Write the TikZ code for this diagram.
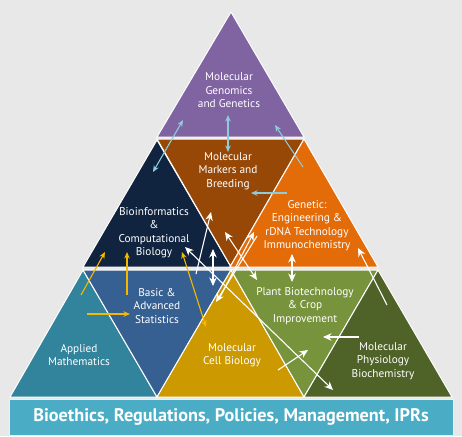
\documentclass[tikz,border=0pt]{standalone}
\usepackage{fontspec}
\setmainfont{PT Sans}
\usetikzlibrary{arrows.meta}
\definecolor{bgc}{HTML}{E8E8E8}
\definecolor{cPurple}{HTML}{8064A2}
\definecolor{cBrown}{HTML}{984806}
\definecolor{cNavy}{HTML}{10233F}
\definecolor{cOrange}{HTML}{E36C09}
\definecolor{cTeal}{HTML}{31849B}
\definecolor{cBlue}{HTML}{366092}
\definecolor{cGold}{HTML}{CC9900}
\definecolor{cGreen}{HTML}{77933C}
\definecolor{cOlive}{HTML}{4F6228}
\definecolor{cBar}{HTML}{4BACC6}
\definecolor{cLB}{HTML}{8ECBDC}
\definecolor{cYel}{HTML}{F5B800}
\tikzset{
  tri/.style={draw=white, line width=1pt, line join=miter},
  lbl/.style={text=white, align=center, inner sep=0pt, font=\fontsize{11.3}{13.5}\selectfont},
  lbarr/.style={draw=cLB, line width=1.1pt, -{Stealth[length=6.5pt,width=5.5pt]}},
  lbdbl/.style={draw=cLB, line width=1.1pt, {Stealth[length=6.5pt,width=5.5pt]}-{Stealth[length=6.5pt,width=5.5pt]}},
  yarr/.style={draw=cYel, line width=1.1pt, -{Stealth[length=6.5pt,width=5.5pt]}},
  ydbl/.style={draw=cYel, line width=1.1pt, {Stealth[length=6.5pt,width=5.5pt]}-{Stealth[length=6.5pt,width=5.5pt]}},
  warr/.style={draw=white, line width=1.1pt, -{Stealth[length=8.5pt,width=7.5pt]}},
  wdbl/.style={draw=white, line width=1.1pt, {Stealth[length=8.5pt,width=7.5pt]}-{Stealth[length=8.5pt,width=7.5pt]}}
}
\begin{document}
\begin{tikzpicture}[x=1pt,y=-1pt]
\fill[bgc] (0,0) rectangle (462,436);
\useasboundingbox (0,0) rectangle (462,436);
% row 1
\filldraw[tri, fill=cPurple] (231,12) -- (157,137) -- (304,137) -- cycle;
% row 2
\filldraw[tri, fill=cNavy] (157,140) -- (83,267) -- (231,267) -- cycle;
\filldraw[tri, fill=cBrown] (157,139) -- (304,139) -- (230.5,266) -- cycle;
\filldraw[tri, fill=cOrange] (304,139) -- (230,267) -- (378,267) -- cycle;
% row 3
\filldraw[tri, fill=cTeal] (83,270) -- (10,397) -- (157,397) -- cycle;
\filldraw[tri, fill=cBlue] (83,270) -- (231,270) -- (157,397) -- cycle;
\filldraw[tri, fill=cGold] (231,270) -- (157,397) -- (304,397) -- cycle;
\filldraw[tri, fill=cGreen] (231,270) -- (378,270) -- (304,397) -- cycle;
\filldraw[tri, fill=cOlive] (378,270) -- (304,397) -- (452,397) -- cycle;
% bottom bar
\node[draw=white!85!cBar, line width=0.8pt, fill=cBar, minimum width=444pt, minimum height=36pt, inner sep=0pt, anchor=north west] (bar) at (9,399) {};
\node[text=white, font=\fontsize{18.2}{20}\selectfont\bfseries] (bartxt) at (231,416.5) {Bioethics, Regulations, Policies, Management, IPRs};
% labels
\node[lbl] (mgg) at (229,90.5) {Molecular\\Genomics\\and Genetics};
\node[lbl] (mmb) at (228,171) {Molecular\\Markers and\\Breeding};
\node[lbl] (bcb) at (154,232.5) {Bioinformatics\\\&\\Computational\\Biology};
\node[lbl] (ger) at (307,225.5) {Genetic:\\Engineering \&\\rDNA Technology\\Immunochemistry};
\node[lbl] (bas) at (157,306) {Basic \&\\Advanced\\Statistics};
\node[lbl] (pbc) at (305,306) {Plant Biotechnology\\\& Crop\\Improvement};
\node[lbl] (am) at (79,355) {Applied\\Mathematics};
\node[lbl] (mcb) at (232,355) {Molecular\\Cell Biology};
\node[lbl] (mpb) at (383,361) {Molecular\\Physiology\\Biochemistry};
% arrow end points
\coordinate (a1s) at (183,120); \coordinate (a1e) at (153,172);
\coordinate (a2s) at (228,115); \coordinate (a2e) at (228,152);
\coordinate (a3s) at (303,167); \coordinate (a3e) at (275,125);
\coordinate (a4s) at (287,193); \coordinate (a4e) at (251,193);
\coordinate (g1s) at (81,295); \coordinate (g1e) at (105,252);
\coordinate (g2s) at (127,295); \coordinate (g2e) at (127,252);
\coordinate (g3s) at (87,314); \coordinate (g3e) at (130,314);
\coordinate (g4s) at (182,252); \coordinate (g4e) at (206,327);
\coordinate (w1s) at (196,274); \coordinate (w1e) at (211,212);
\coordinate (w2s) at (213,249); \coordinate (w2e) at (213,286);
\coordinate (w3s) at (225,232); \coordinate (w3e) at (257,280);
\coordinate (w4s) at (292,254); \coordinate (w4e) at (292,282);
\coordinate (w5s) at (219,299); \coordinate (w5e) at (254,232);
\coordinate (w6s) at (257,236); \coordinate (w6e) at (216,302);
\coordinate (w7s) at (185,247); \coordinate (w7e) at (333,390);
\coordinate (w8s) at (387,305); \coordinate (w8e) at (358,248);
\coordinate (w9s) at (359,337); \coordinate (w9e) at (323,337);
\coordinate (w10s) at (278,370); \coordinate (w10e) at (308,350);
% light blue arrows
\draw[lbdbl] (a1s) -- (a1e);
\draw[lbdbl] (a2s) -- (a2e);
\draw[lbarr] (a3s) -- (a3e);
\draw[lbarr] (a4s) -- (a4e);
% gold arrows
\draw[yarr] (g1s) -- (g1e);
\draw[yarr] (g2s) -- (g2e);
\draw[yarr] (g3s) -- (g3e);
\draw[ydbl] (g4s) -- (g4e);
% white arrows
\draw[warr] (w1s) -- (w1e);
\draw[wdbl] (w2s) -- (w2e);
\draw[wdbl] (w3s) -- (w3e);
\draw[wdbl] (w4s) -- (w4e);
\draw[warr] (w5s) -- (w5e);
\draw[warr] (w6s) -- (w6e);
\draw[wdbl] (w7s) -- (w7e);
\draw[warr] (w8s) -- (w8e);
\draw[warr] (w9s) -- (w9e);
\draw[warr] (w10s) -- (w10e);
\end{tikzpicture}
\end{document}
